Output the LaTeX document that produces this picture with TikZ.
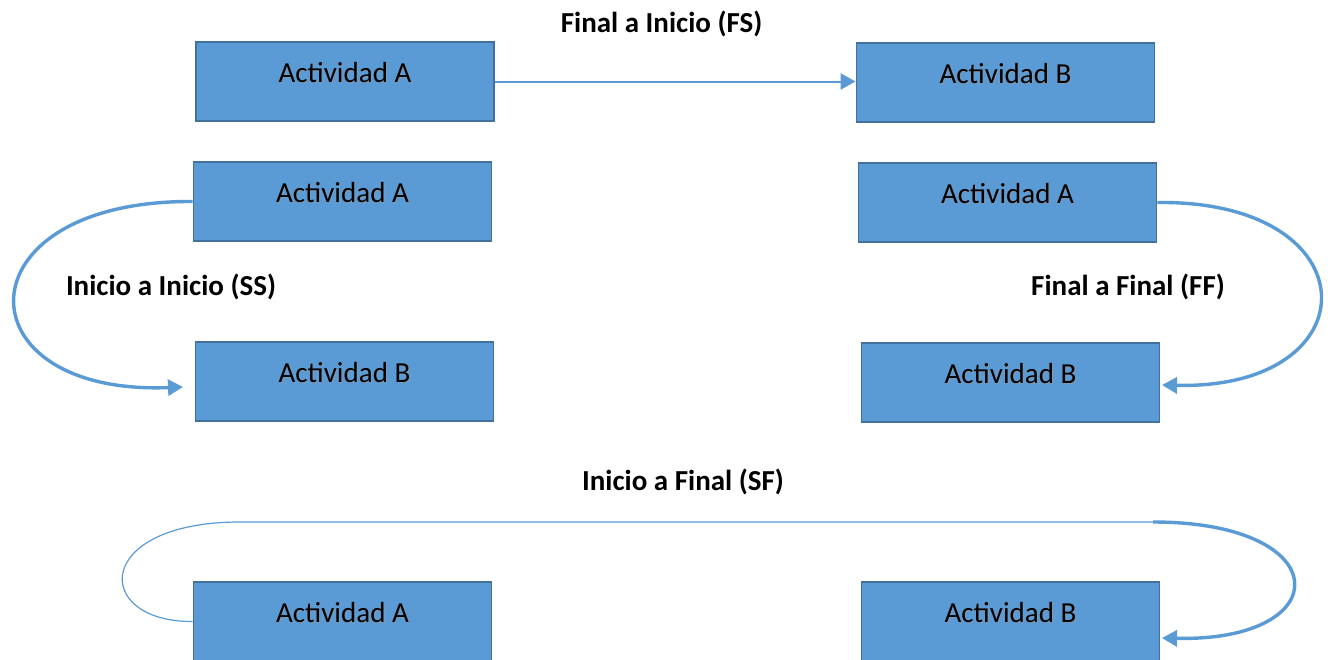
\documentclass[tikz,border=0pt]{standalone}
\usepackage{fontspec}
\setmainfont{Carlito}
\usetikzlibrary{arrows.meta}

\definecolor{boxfill}{HTML}{5B9BD5}
\definecolor{boxline}{HTML}{41719C}
\definecolor{linkcol}{HTML}{5B9BD5}

\newcommand{\diagfont}{\fontsize{29}{35}\selectfont}

\tikzset{
  actbox/.style={rectangle, draw=boxline, fill=boxfill, line width=1.8pt,
    minimum width=298pt, minimum height=79pt, inner sep=0pt,
    label={[font=\diagfont, text=black!40, opacity=0.55, anchor=base,
            xshift=1pt, yshift=-42pt]north:#1},
    label={[font=\diagfont, anchor=base, yshift=-41pt]north:#1}},
  reltext/.style={font=\diagfont\bfseries, anchor=base, inner sep=0pt},
  tiparrow/.style={-{Triangle[length=15pt,width=16pt]}},
  thinlink/.style={draw=linkcol, line width=2pt},
  thicklink/.style={draw=linkcol, line width=3.4pt},
  hairlink/.style={draw=linkcol, line width=1.2pt},
}

\begin{document}
\begin{tikzpicture}[x=1pt, y=-1pt]
  \clip (0,0) rectangle (1328,659);
  \fill[white] (0,0) rectangle (1328,659);

  % Finish-to-start
  \node[actbox={Actividad A}] (fsA) at (345,81.5) {};
  \node[actbox={Actividad B}] (fsB) at (1005.5,82.5) {};
  \node[reltext] (fsL) at (661.5,32) {Final a Inicio (FS)};
  \draw[thinlink, tiparrow] (fsA.east) -- (fsA.east -| fsB.west);

  % Start-to-start
  \node[actbox={Actividad A}] (ssA) at (342.5,201.5) {};
  \node[actbox={Actividad B}] (ssB) at (344.5,381.5) {};
  \node[reltext] (ssL) at (171,295) {Inicio a Inicio (SS)};
  \coordinate (ssEnd) at (183,387);
  \draw[thicklink, tiparrow] (ssA.west) .. controls (-42,200) and (-42,396) .. (ssEnd);

  % Finish-to-finish
  \node[actbox={Actividad A}] (ffA) at (1007.5,202.5) {};
  \node[actbox={Actividad B}] (ffB) at (1010.5,382.5) {};
  \node[reltext] (ffL) at (1128,295) {Final a Final (FF)};
  \coordinate (ffEnd) at (1162,385);
  \draw[thicklink, tiparrow] (ffA.east) .. controls (1373,200) and (1373,390) .. (ffEnd);

  % Start-to-finish
  \node[actbox={Actividad A}] (sfA) at (342.5,621.5) {};
  \node[actbox={Actividad B}] (sfB) at (1010.5,621.5) {};
  \node[reltext] (sfL) at (683,490) {Inicio a Final (SF)};
  \coordinate (sfTopL) at (240,522);
  \coordinate (sfTopR) at (1153,522);
  \coordinate (sfEnd) at (1162,638);
  \draw[hairlink] (sfA.west) .. controls (92,622) and (92,522) .. (sfTopL) -- (sfTopR);
  \draw[thicklink, tiparrow] (sfTopR) .. controls (1338,522) and (1338,642) .. (sfEnd);
\end{tikzpicture}
\end{document}
